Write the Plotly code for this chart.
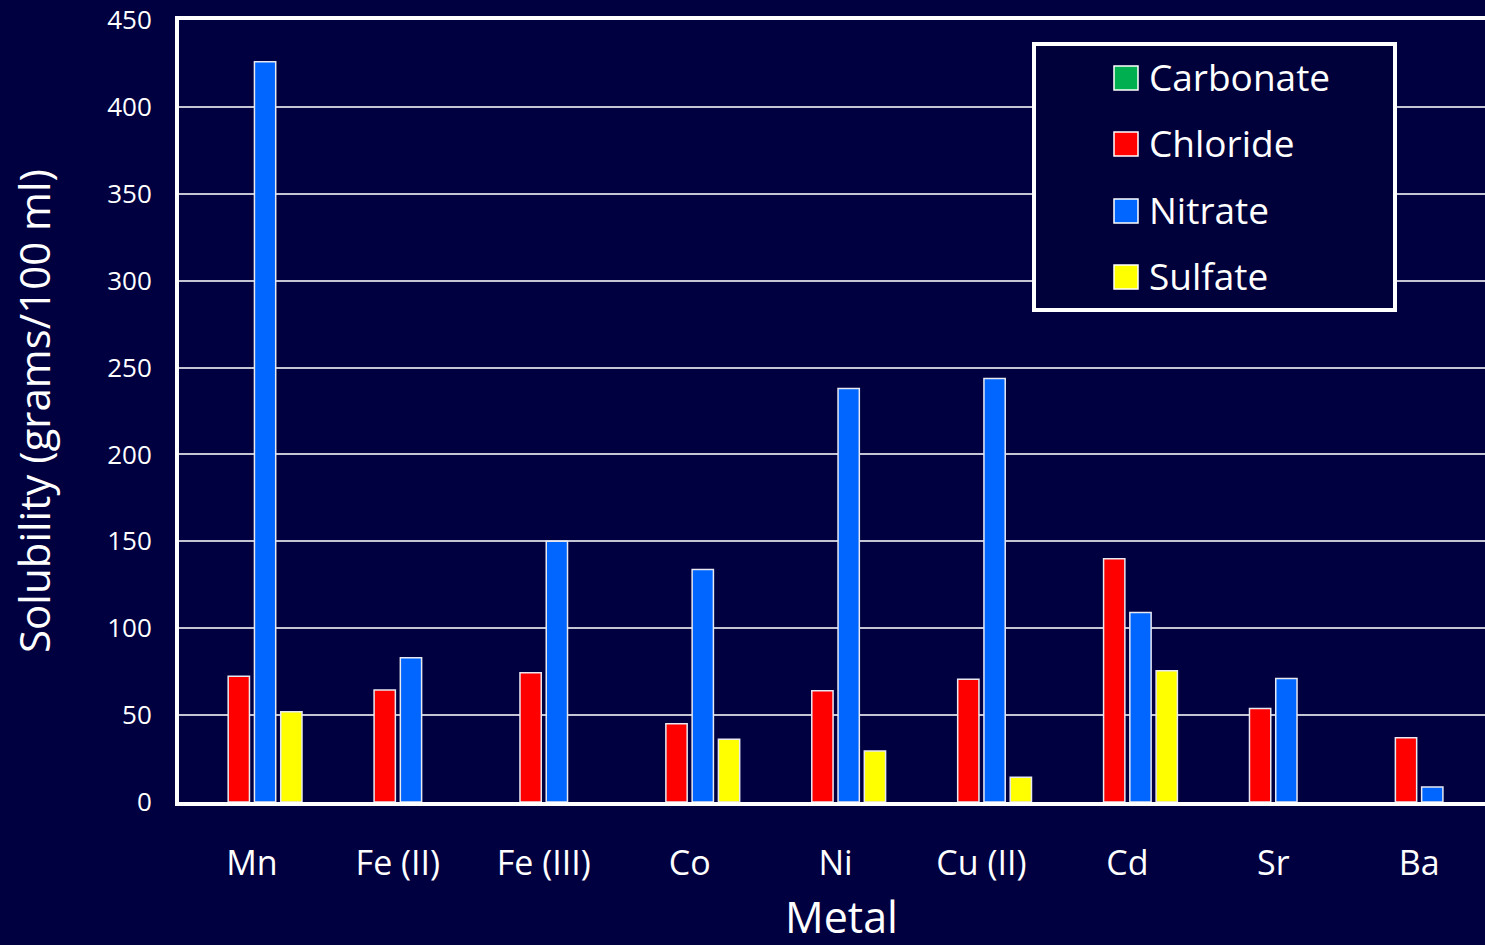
import plotly.graph_objects as go

# Solubility of metal salts in water (grams per 100 ml)
metals = ["Mn", "Fe (II)", "Fe (III)", "Co", "Ni", "Cu (II)", "Cd", "Sr", "Ba"]
carbonate = [None, None, None, None, None, None, None, None, None]
chloride = [72.3, 64.4, 74.4, 45.0, 64.0, 70.6, 140.0, 53.8, 37.0]
nitrate = [426.0, 83.0, 150.0, 133.8, 238.0, 243.7, 109.0, 71.0, 8.7]
sulfate = [52.0, None, None, 36.1, 29.3, 14.3, 75.5, None, None]

series_names = ["Carbonate", "Chloride", "Nitrate", "Sulfate"]
series_values = [carbonate, chloride, nitrate, sulfate]
series_colors = ["#00B050", "#FF0000", "#0066FF", "#FFFF00"]

BG = "#000040"
FONT = "Open Sans, Lato, DejaVu Sans, sans-serif"

fig = go.Figure()
for name, vals, color in zip(series_names, series_values, series_colors):
    fig.add_trace(go.Bar(
        name=name, x=metals, y=vals,
        marker=dict(color=color, line=dict(color="#E8E8F0", width=1.5)),
        showlegend=False,
    ))

# Plot area in pixels: x 179..1485, y 20..802
W, H = 1485, 945
L, R, T, B = 179, 0, 20, 143
PW, PH = W - L - R, H - T - B


def px(x):
    return (x - L) / PW


def py(y):
    return (H - B - y) / PH


shapes = [dict(
    type="rect", xref="paper", yref="paper",
    x0=px(1034), x1=px(1395), y0=py(310), y1=py(44),
    line=dict(color="white", width=4), fillcolor="#00003A", layer="above",
)]
annotations = []
item_y = [78, 144, 211, 277]
for name, color, yc in zip(series_names, series_colors, item_y):
    shapes.append(dict(
        type="rect", xref="paper", yref="paper",
        x0=px(1114), x1=px(1138), y0=py(yc + 12), y1=py(yc - 12),
        line=dict(color="white", width=1.5), fillcolor=color, layer="above",
    ))
    annotations.append(dict(
        xref="paper", yref="paper", x=px(1147), y=py(yc - 2),
        xanchor="left", yanchor="middle", showarrow=False,
        text=name, font=dict(family=FONT, size=37, color="white"),
    ))

# x-axis title sits low, near the bottom edge of the page
annotations.append(dict(
    xref="paper", yref="paper", x=px(841), y=py(917),
    xanchor="center", yanchor="middle", showarrow=False,
    text="Metal", font=dict(family=FONT, size=43, color="white"),
))

# the category axis runs a little past the right edge of the page
cat_step = 145.9
x_hi = -0.5 + PW / cat_step

fig.update_layout(
    width=W, height=H,
    margin=dict(l=L, r=R, t=T, b=B, pad=0),
    paper_bgcolor=BG, plot_bgcolor=BG,
    barmode="group", bargap=0.28, bargroupgap=0.19,
    font=dict(family=FONT, color="white"),
    shapes=shapes, annotations=annotations,
    xaxis=dict(
        range=[-0.5, x_hi],
        showline=True, linecolor="white", linewidth=4, mirror=True,
        showgrid=False, ticks="", automargin=False,
        tickfont=dict(size=34, color="white"), ticklabelstandoff=28,
    ),
    yaxis=dict(
        range=[0, 450], dtick=50, showline=True, linecolor="white", linewidth=4,
        showgrid=True, gridcolor="#C4C4D4", gridwidth=1.5, zeroline=False,
        ticks="", automargin=False,
        tickfont=dict(size=26, color="white"), ticklabelstandoff=18,
        title=dict(text="Solubility (grams/100 ml)", font=dict(size=42, color="white"), standoff=44),
    ),
)

fig.write_html("out.html")
